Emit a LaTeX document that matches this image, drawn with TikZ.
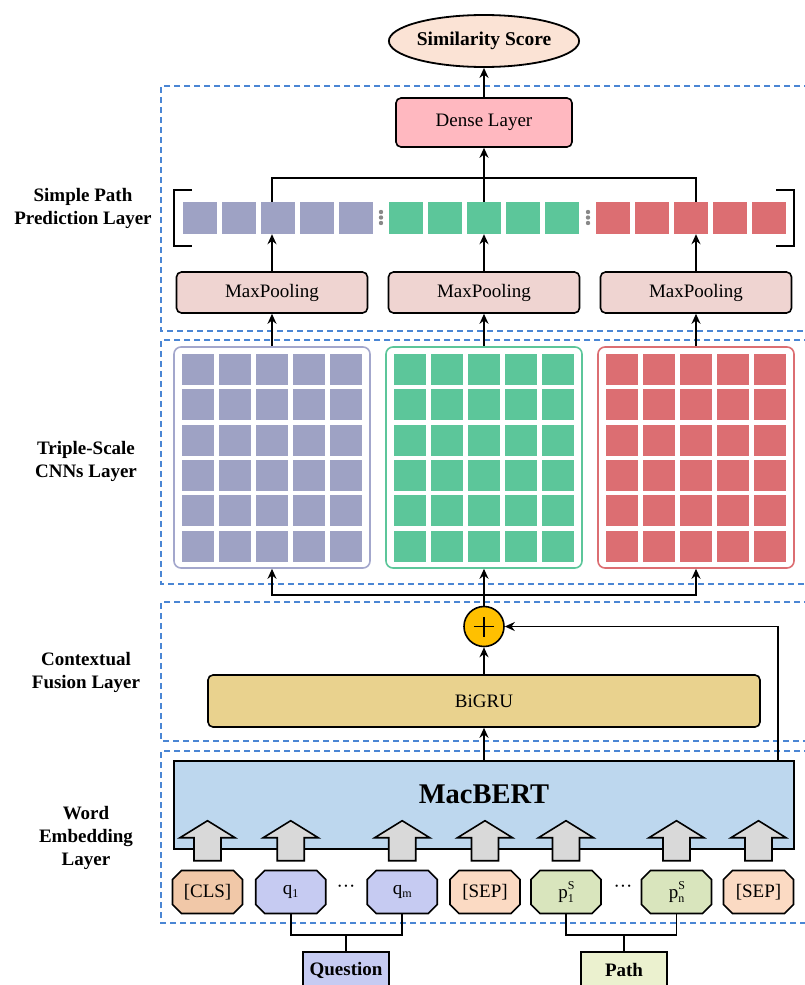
\documentclass[tikz,border=0pt]{standalone}
\usepackage{fontspec}
\setmainfont{Liberation Serif}
\usetikzlibrary{shapes.misc,shapes.geometric,arrows.meta}

\definecolor{dashblue}{RGB}{74,134,212}
\definecolor{cbl}{RGB}{158,162,196}
\definecolor{cblb}{RGB}{163,167,204}
\definecolor{cgr}{RGB}{92,198,154}
\definecolor{cre}{RGB}{220,110,114}
\definecolor{densec}{RGB}{255,184,192}
\definecolor{mpc}{RGB}{239,212,209}
\definecolor{goldc}{RGB}{255,192,0}
\definecolor{bigruc}{RGB}{233,210,142}
\definecolor{macc}{RGB}{189,215,238}
\definecolor{grayarr}{RGB}{217,217,217}
\definecolor{clsc}{RGB}{241,200,168}
\definecolor{sepc}{RGB}{251,218,195}
\definecolor{qc}{RGB}{198,203,242}
\definecolor{pc}{RGB}{217,229,189}
\definecolor{pathc}{RGB}{235,241,207}
\definecolor{ellc}{RGB}{251,227,213}
\definecolor{dotc}{RGB}{136,136,136}

\newcommand{\blockarrow}[1]{%
  \draw[blockarr] ([xshift=-13.5pt,yshift=9pt]#1.north) -- ++(0,-23) -- ++(-14,0)
    -- ++(27.5,-17) -- ++(27.5,17) -- ++(-14,0) -- ++(0,23) -- cycle;}

\begin{document}
\begin{tikzpicture}[x=1pt,y=-1pt,
  txt/.style={font=\fontsize{19}{22}\selectfont},
  box/.style={draw=black, line width=1.6pt, rounded corners=5pt, inner sep=0pt, txt},
  layerbox/.style={draw=dashblue, line width=1.6pt, dash pattern=on 6pt off 4pt},
  lbl/.style={align=center, font=\bfseries\fontsize{19}{23}\selectfont},
  arr/.style={line width=1.6pt, -{Stealth[length=10pt,width=9pt]}},
  conn/.style={line width=1.6pt},
  vcell/.style={minimum width=34pt, minimum height=32pt, inner sep=0pt},
  gcell/.style={minimum width=32pt, minimum height=31pt, inner sep=0pt},
  cnnbox/.style={line width=1.6pt, rounded corners=7pt, minimum width=196pt, minimum height=221pt, inner sep=0pt},
  tok/.style={chamfered rectangle, chamfered rectangle xsep=4.5pt, chamfered rectangle ysep=4.5pt,
    draw=black, line width=1.6pt, minimum width=70pt, minimum height=43pt, inner sep=0pt, txt},
  blockarr/.style={draw=black, fill=grayarr, line width=1.6pt, line join=miter},
  inbox/.style={draw=black, line width=1.6pt, inner sep=0pt, minimum height=36pt, font=\bfseries\fontsize{19}{22}\selectfont}
]
\useasboundingbox (0,0) rectangle (805,985);

% layer boxes (dashed)
\draw[layerbox] (820,86) -- (161,86) -- (161,331) -- (820,331);
\draw[layerbox] (820,340) -- (161,340) -- (161,584) -- (820,584);
\draw[layerbox] (820,602) -- (161,602) -- (161,741) -- (820,741);
\draw[layerbox] (820,751) -- (161,751) -- (161,923) -- (820,923);

% layer labels
\node[lbl] (l1) at (83,208) {Simple Path\\Prediction Layer};
\node[lbl] (l2) at (86,461) {Triple-Scale\\CNNs Layer};
\node[lbl] (l3) at (86,672) {Contextual\\Fusion Layer};
\node[lbl] (l4) at (86,838) {Word\\Embedding\\Layer};

% top
\node[ellipse, draw=black, line width=1.8pt, fill=ellc, minimum width=174pt, minimum height=52pt, inner sep=0pt,
  font=\bfseries\fontsize{19.5}{22}\selectfont] (score) at (484,41) {Similarity Score};
\node[box, fill=densec, minimum width=176pt, minimum height=49pt] (dense) at (484,122.5) {Dense Layer};

% brackets
\draw[line width=2.5pt] (192,190) -- (174,190) -- (174,246) -- (192,246);
\draw[line width=2.5pt] (776,190) -- (794,190) -- (794,246) -- (776,246);

% vector cells
\foreach \i in {0,...,4} {
  \node[vcell, fill=cbl] (vb\i) at ({200+39*\i},218) {};
  \node[vcell, fill=cgr] (vg\i) at ({406+39*\i},218) {};
  \node[vcell, fill=cre] (vr\i) at ({613+39*\i},218) {};
}
\foreach \xx in {381,588} {
  \foreach \yy in {212,217.5,223} \fill[dotc] (\xx,\yy) circle (2.2pt);
}

% MaxPooling
\node[box, fill=mpc, minimum width=191pt, minimum height=41pt] (mp1) at (272,292.5) {MaxPooling};
\node[box, fill=mpc, minimum width=191pt, minimum height=41pt] (mp2) at (484,292.5) {MaxPooling};
\node[box, fill=mpc, minimum width=191pt, minimum height=41pt] (mp3) at (696,292.5) {MaxPooling};

% CNN boxes
\node[cnnbox, draw=cblb] (cnn1) at (272,457.5) {};
\node[cnnbox, draw=cgr] (cnn2) at (484,457.5) {};
\node[cnnbox, draw=cre] (cnn3) at (696,457.5) {};
\foreach \i in {0,...,4} {
  \foreach \j in {0,...,5} {
    \node[gcell, fill=cbl] at ({198+37*\i},{369.5+35.3*\j}) {};
    \node[gcell, fill=cgr] at ({410+37*\i},{369.5+35.3*\j}) {};
    \node[gcell, fill=cre] at ({622+37*\i},{369.5+35.3*\j}) {};
  }
}

% fusion
\node[circle, draw=black, line width=1.6pt, fill=goldc, minimum size=40pt, inner sep=0pt] (plus) at (484,626.5) {};
\draw[line width=1.4pt] ([xshift=-10pt]plus.center) -- ([xshift=10pt]plus.center);
\draw[line width=1.4pt] ([yshift=-10pt]plus.center) -- ([yshift=10pt]plus.center);
\node[box, fill=bigruc, minimum width=552pt, minimum height=52pt] (bigru) at (484,701) {BiGRU};

% MacBERT
\node[draw=black, line width=1.6pt, fill=macc, minimum width=620pt, minimum height=88pt, inner sep=0pt] (mac) at (484,805) {};
\node[font=\bfseries\fontsize{28.5}{30}\selectfont] (mactext) at (484,794) {MacBERT};

% tokens
\node[tok, fill=clsc] (t1) at (207.5,892) {[CLS]};
\node[tok, fill=qc] (t2) at (290.7,892) {q\raisebox{-3pt}{\fontsize{12}{12}\selectfont 1}};
\node[tok, fill=qc] (t3) at (402.2,892) {q\raisebox{-3pt}{\fontsize{12}{12}\selectfont m}};
\node[tok, fill=sepc] (t4) at (485,892) {[SEP]};
\node[tok, fill=pc] (t5) at (566,892) {p\rlap{\raisebox{9pt}{\fontsize{12}{12}\selectfont S}}\raisebox{-4pt}{\fontsize{12}{12}\selectfont 1}};
\node[tok, fill=pc] (t6) at (676.5,892) {p\rlap{\raisebox{9pt}{\fontsize{12}{12}\selectfont S}}\raisebox{-4pt}{\fontsize{12}{12}\selectfont n}};
\node[tok, fill=sepc] (t7) at (758.5,892) {[SEP]};
\node[txt] (d1) at (346,889) {···};
\node[txt] (d2) at (623,889) {···};

\foreach \t in {t1,t2,t3,t4,t5,t6,t7} { \blockarrow{\t} }

% inputs
\node[inbox, fill=qc, minimum width=86pt] (question) at (346,970) {Question};
\node[inbox, fill=pathc, minimum width=86pt] (path) at (624,970) {Path};
\coordinate (qj) at (346,935);
\coordinate (pj) at (624,935);
\draw[conn] (t2.south) |- (qj) -| (t3.south);
\draw[conn] (qj) -- (question.north);
\draw[conn] (t5.south) |- (pj) -| (t6.south);
\draw[conn] (pj) -- (path.north);

% connectors
\draw[arr] (dense.north) -- (score.south);
\coordinate (bus) at (484,178);
\draw[conn] (vb2.north -| mp1.north) |- (bus) -| (vr2.north -| mp3.north);
\draw[arr] (vg2.north) -- (dense.south);
\draw[arr] (mp1.north) -- (vb2.south -| mp1.north);
\draw[arr] (mp2.north) -- (vg2.south);
\draw[arr] (mp3.north) -- (vr2.south -| mp3.north);
\draw[arr] (cnn1.north) -- (mp1.south);
\draw[arr] (cnn2.north) -- (mp2.south);
\draw[arr] (cnn3.north) -- (mp3.south);
\coordinate (fork) at (484,595);
\draw[arr] (plus.north) -- (cnn2.south);
\draw[arr] (fork) -| (cnn1.south);
\draw[arr] (fork) -| (cnn3.south);
\draw[arr] (bigru.north) -- (plus.south);
\draw[arr] (mac.north) -- (bigru.south);
\coordinate (rt) at (778,761);
\draw[arr] (rt) |- (plus.east);
\end{tikzpicture}
\end{document}
